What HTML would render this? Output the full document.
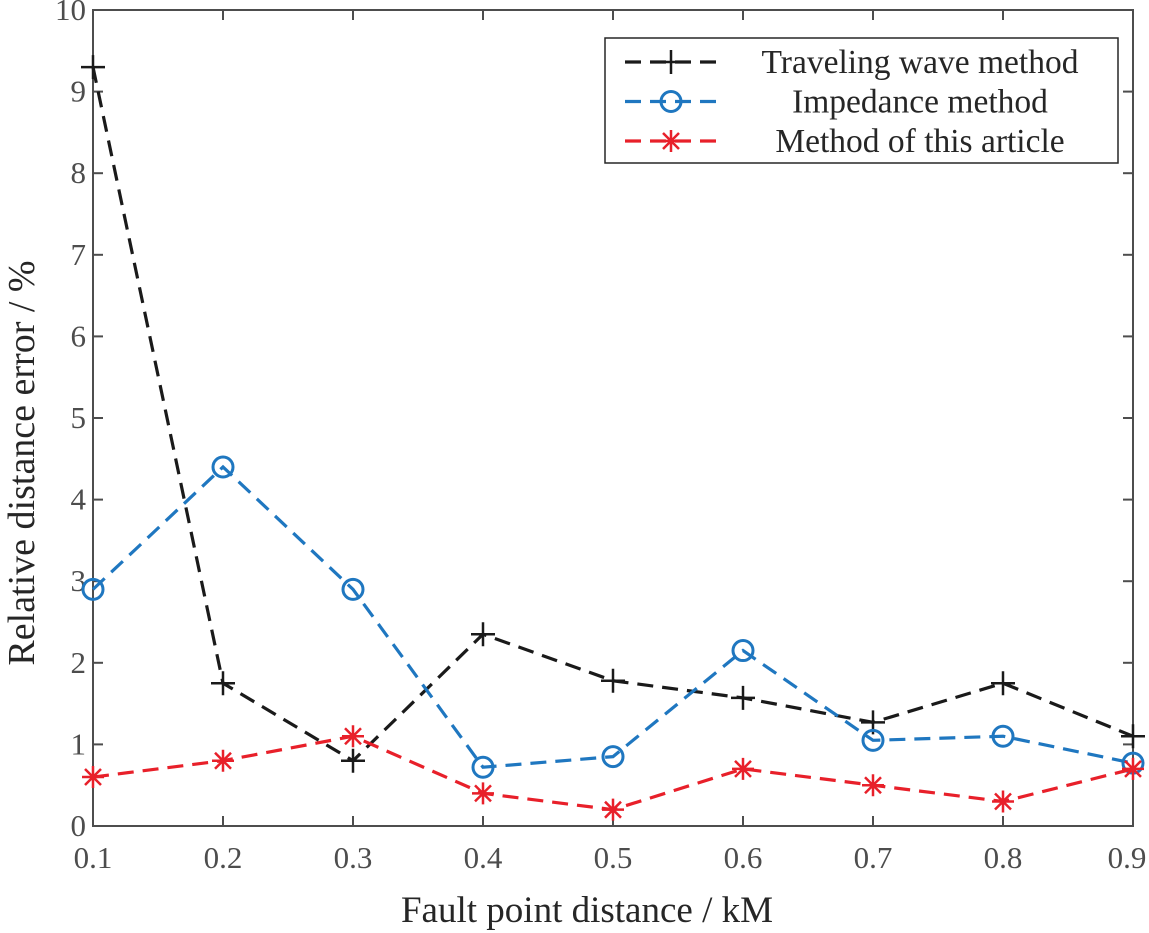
<!DOCTYPE html>
<html><head><meta charset="utf-8"><style>
html,body{margin:0;padding:0;background:#fff;}
svg{display:block;font-family:"Liberation Serif",serif;}
</style></head><body>
<svg id="chart" width="1149" height="933" viewBox="0 0 1149 933" xmlns="http://www.w3.org/2000/svg">
<g id="axes"></g>
<g id="series"></g>
<g id="legend"></g>
</svg>
<script>
const categories=[0.1,0.2,0.3,0.4,0.5,0.6,0.7,0.8,0.9];
const travelingWave=[9.3,1.75,0.8,2.35,1.78,1.57,1.27,1.75,1.1];
const impedance=[2.9,4.4,2.9,0.72,0.85,2.15,1.05,1.1,0.77];
const articleMethod=[0.6,0.8,1.1,0.4,0.2,0.7,0.5,0.3,0.7];
const xTicks=[0.1,0.2,0.3,0.4,0.5,0.6,0.7,0.8,0.9];
const yTicks=[0,1,2,3,4,5,6,7,8,9,10];
const seriesNames=["Traveling wave method","Impedance method","Method of this article"];

const L=93,R=1133,T=10,B=826;
const xs=v=>L+(v-0.1)/(0.8)*(R-L);
const ys=v=>B-v/10*(B-T);
const NS="http://www.w3.org/2000/svg";
const AX='#4d4d4d', TX='#4d4d4d';
function mk(tag,attrs,parent){const e=document.createElementNS(NS,tag);for(const k in attrs)e.setAttribute(k,attrs[k]);parent.appendChild(e);return e;}
const ax=document.getElementById('axes');
const frame=mk('rect',{x:L,y:T,width:R-L,height:B-T,fill:'none',stroke:AX,'stroke-width':2},ax);


xTicks.forEach((v,i)=>{
  const x=xs(v);
  mk('line',{x1:x,y1:B,x2:x,y2:B-10,stroke:AX,'stroke-width':2},ax);
  mk('line',{x1:x,y1:T,x2:x,y2:T+10,stroke:AX,'stroke-width':2},ax);
  const last=i===xTicks.length-1;
  const t=mk('text',{x:last?x-6:x,y:868,'text-anchor':'middle','font-size':31,fill:TX},ax);
  t.textContent=v.toFixed(1);
  
  
});
yTicks.forEach(v=>{
  const y=ys(v);
  mk('line',{x1:L,y1:y,x2:L+10,y2:y,stroke:AX,'stroke-width':2},ax);
  mk('line',{x1:R,y1:y,x2:R-10,y2:y,stroke:AX,'stroke-width':2},ax);
  const t=mk('text',{x:L-7,y:y+10,'text-anchor':'end','font-size':31,fill:TX},ax);
  t.textContent=v;
  
  
});
const xt=mk('text',{x:587,y:922,'text-anchor':'middle','font-size':37,fill:'#262626'},ax);
xt.textContent='Fault point distance / kM';


const yt=mk('text',{x:0,y:0,'text-anchor':'middle','font-size':38,fill:'#262626',transform:`translate(34,463) rotate(-90)`},ax);
yt.textContent='Relative distance error / %';



function marker(type,x,y,color,g){
  if(type==='plus'){
    mk('path',{d:`M${x-12} ${y}H${x+12}M${x} ${y-12}V${y+12}`,stroke:color,'stroke-width':2.5,fill:'none'},g);
  }else if(type==='circle'){
    mk('circle',{cx:x,cy:y,r:10,stroke:color,'stroke-width':3,fill:'none'},g);
  }else{
    mk('path',{d:`M${x-11} ${y}H${x+11}M${x} ${y-11}V${y+11}M${x-8} ${y-8}L${x+8} ${y+8}M${x-8} ${y+8}L${x+8} ${y-8}`,stroke:color,'stroke-width':2.5,fill:'none'},g);
  }
}
const sg=document.getElementById('series');
const defs=[[travelingWave,'#1a1a1a','plus','traveling-wave'],[impedance,'#1f77c0','circle','impedance'],[articleMethod,'#e8202a','star','article-method']];
defs.forEach(([data,color,m,name])=>{
  const g=mk('g',{},sg);
  
  
  const d=data.map((v,i)=>(i?'L':'M')+xs(categories[i])+' '+ys(v)).join('');
  const p=mk('path',{d:d,stroke:color,'stroke-width':3.2,fill:'none','stroke-dasharray':'16 9'},g);
  
  
  data.forEach((v,i)=>marker(m,xs(categories[i]),ys(v),color,g));
});
const lg=document.getElementById('legend');
mk('rect',{x:605,y:38,width:513,height:125,fill:'#fff',stroke:'#262626','stroke-width':1.5},lg);
defs.forEach(([data,color,m,name],i)=>{
  const y=62+i*39.5;
  const e=mk('g',{},lg);
  
  
  mk('line',{x1:625,y1:y,x2:717,y2:y,stroke:color,'stroke-width':3.2,'stroke-dasharray':'16 9'},e);
  marker(m,671,y,color,e);
  const t=mk('text',{x:920,y:y+11,'text-anchor':'middle','font-size':33.5,fill:'#262626'},e);
  t.textContent=seriesNames[i];
});
</script>
</body></html>
